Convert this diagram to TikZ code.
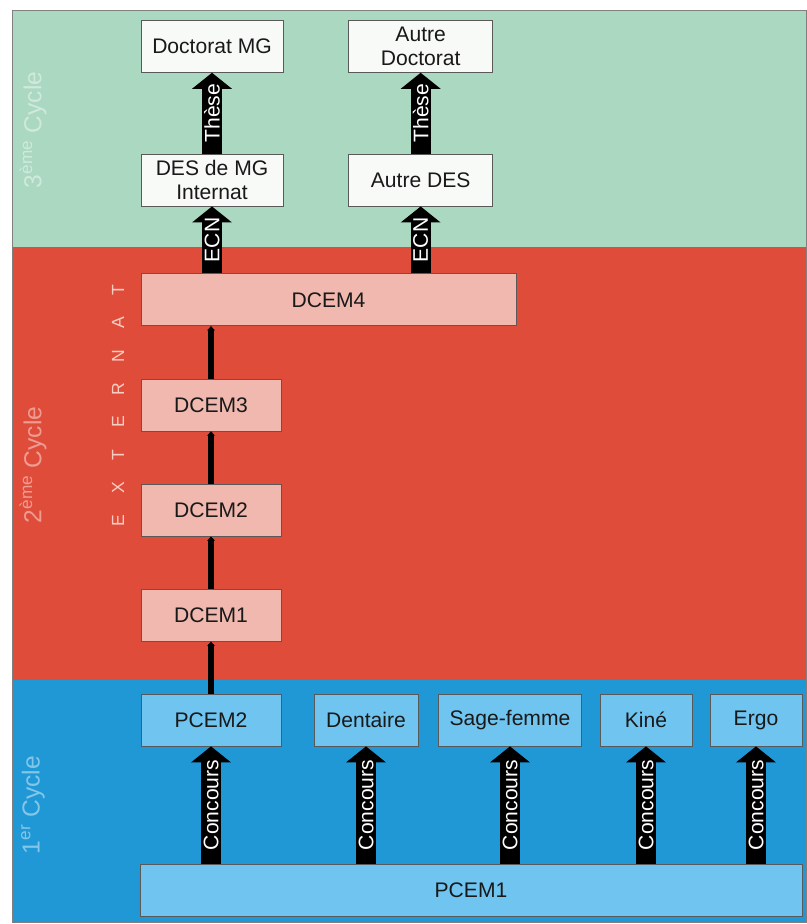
\documentclass[tikz,border=0pt]{standalone}
\usepackage{fontspec}
\setmainfont{Liberation Sans}
\usepackage{xcolor}
\usetikzlibrary{arrows.meta,positioning}

\definecolor{cyclegreen}{RGB}{170,216,192}
\definecolor{cyclered}{RGB}{224,76,58}
\definecolor{cycleblue}{RGB}{32,152,214}
\definecolor{boxwhite}{RGB}{248,250,247}
\definecolor{boxpink}{RGB}{240,184,174}
\definecolor{boxblue}{RGB}{112,196,240}
\definecolor{extpink}{RGB}{250,205,195}

\begin{document}
\begin{tikzpicture}[x=0.02cm,y=-0.02cm,>=Stealth,font=\fontsize{12}{14}\selectfont,
  box/.style={draw=black!65,minimum height=1.04cm,inner sep=1pt,align=center,text=black!90},
  whitebox/.style={box,fill=boxwhite,minimum width=2.84cm},
  pinkbox/.style={box,fill=boxpink,minimum width=2.8cm},
  bluebox/.style={box,fill=boxblue,minimum width=2.8cm},
  fatarrow/.style={line width=0.4cm,-{Triangle[width=0.78cm,length=0.32cm]}},
  stepline/.style={line width=0.12cm,-{Stealth[length=2.5pt,width=4.5pt]}},
  arrowtext/.style={midway,rotate=90,text=white},
  cyclelabel/.style={rotate=90,text=white,text opacity=0.45,font=\fontsize{14}{16}\selectfont},
  externletter/.style={rotate=90,text=extpink,font=\fontsize{10}{12}\selectfont}]

            \useasboundingbox (0,0) rectangle (807,924);

            % bands
            \fill[cyclegreen] (12,10) rectangle (807,247);
            \fill[cyclered] (12,247) rectangle (807,680);
            \fill[cycleblue] (12,680) rectangle (807,922);
            \draw[gray] (12,10) rectangle (806,922);

            % 1er cycle
            \node[bluebox,minimum width=13.24cm] (pcemone) at (471,890) {PCEM1};
            \node[bluebox] (pcemtwo) at (211,720) {PCEM2};
            \node[bluebox,minimum width=2.08cm] (dentaire) at (366,720) {Dentaire};
            \node[bluebox,minimum width=2.86cm] (sagefemme) at (510,720) {Sage-femme};
            \node[bluebox,minimum width=1.84cm] (kine) at (646,720) {Kiné};
            \node[bluebox,minimum width=1.84cm] (ergo) at (756,720) {Ergo};

            % 2eme cycle
            \node[pinkbox] (dcemone) [above=1.04cm of pcemtwo] {DCEM1};
            \node[pinkbox] (dcemtwo) [above=1.05cm of dcemone] {DCEM2};
            \node[pinkbox] (dcemthree) [above=1.05cm of dcemtwo] {DCEM3};
            \node[pinkbox,minimum width=7.5cm] (dcemfour) [above=1.05cm of dcemthree.north west,anchor=south west] {DCEM4};

            % 3eme cycle
            \node[whitebox] (desmg) [above=1.34cm of dcemfour.north west,anchor=south west] {DES de MG\\Internat};
            \node[whitebox,minimum width=2.88cm] (autredes) [right=1.3cm of desmg] {Autre DES};
            \node[whitebox] (docmg) [above=1.62cm of desmg] {Doctorat MG};
            \node[whitebox,minimum width=2.88cm] (autredoc) [above=1.62cm of autredes] {Autre\\Doctorat};

            \foreach \x in {pcemtwo,dentaire,sagefemme,kine,ergo}
                \draw[fatarrow] (pcemone.north -| \x) -- (\x) node[arrowtext] {Concours};

            \draw[stepline] (pcemtwo) -- (dcemone);
            \draw[stepline] (dcemone) -- (dcemtwo);
            \draw[stepline] (dcemtwo) -- (dcemthree);
            \draw[stepline] (dcemthree.north) -- (dcemthree.north |- dcemfour.south);

            \draw[fatarrow] (dcemfour.north -| desmg) -- (desmg) node[arrowtext] {ECN};
            \draw[fatarrow] (dcemfour.north -| autredes) -- (autredes) node[arrowtext] {ECN};
            \draw[fatarrow] (desmg) -- (docmg) node[arrowtext] {Thèse};
            \draw[fatarrow] (autredes) -- (autredoc) node[arrowtext] {Thèse};

            \node[cyclelabel] (cyclethree) at (33,130) {3\textsuperscript{ème} Cycle};
            \node[cyclelabel] (cycletwo) at (33,465) {2\textsuperscript{ème} Cycle};
            \node[cyclelabel] (cycleone) at (33,805) {1\textsuperscript{er} Cycle};

            \foreach \letter [count=\i] in {E,X,T,E,R,N,A,T}
                \node[externletter] (ext\i) at (118,554-33*\i) {\letter};

        \end{tikzpicture}
\end{document}
